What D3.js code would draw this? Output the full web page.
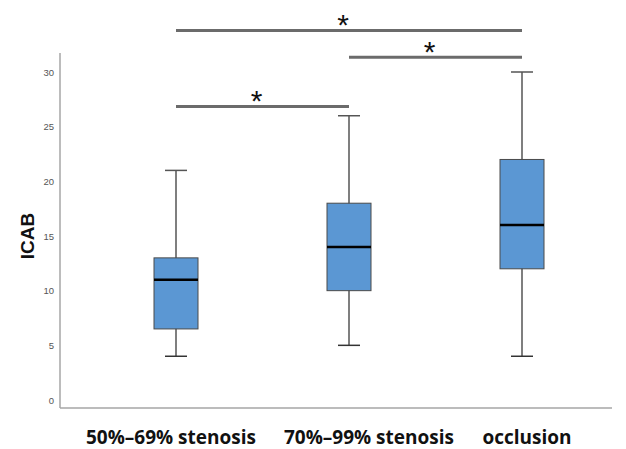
<!DOCTYPE html>
<html>
<head>
<meta charset="utf-8">
<script src="https://cdn.jsdelivr.net/npm/d3@7"></script>
<style>
  body { margin: 0; background: #fff; }
  svg { display: block; }
</style>
</head>
<body>
<div id="chart"></div>
<script>
const width = 626;
const height = 449;

// data
const groups = ["50%\u201369% stenosis", "70%\u201399% stenosis", "occlusion"];
const whiskerLow = [4, 5, 4];
const q1 = [6.5, 10, 12];
const medians = [11, 14, 16];
const q3 = [13, 18, 22];
const whiskerHigh = [21, 26, 30];
const yTicks = [0, 5, 10, 15, 20, 25, 30];

// significance brackets: [from group, to group]
const sigPairs = [[0, 2], [1, 2], [0, 1]];
const sigLevels = [33.8, 31.35, 26.85]; // bar heights in data units
const sigLabels = ["*", "*", "*"];

const svg = d3.select("#chart").append("svg")
    .attr("width", width)
    .attr("height", height);

const y = d3.scaleLinear().domain([0, 30]).range([400, 72]);
const x = d3.scalePoint().domain(groups).range([176, 522]);

const plotLeft = 60, plotRight = 612, plotTop = 53, plotBottom = 408;
const boxW = 44, capW = 22;

// axis frame
svg.append("line")
    .attr("x1", plotLeft).attr("x2", plotLeft)
    .attr("y1", plotTop).attr("y2", plotBottom)
    .style("stroke", "#a6a6a6").style("stroke-width", 1.5);
svg.append("line")
    .attr("x1", plotLeft).attr("x2", plotRight)
    .attr("y1", plotBottom).attr("y2", plotBottom)
    .style("stroke", "#a6a6a6").style("stroke-width", 1.5);

// y ticks labels
const yAxis = d3.axisLeft(y).tickValues(yTicks).tickSize(0).tickPadding(6);
const gy = svg.append("g")
    .attr("transform", `translate(${plotLeft},0)`)
    .call(yAxis);
gy.select(".domain").remove();
gy.selectAll("text")
    .style("font-family", "Arial, 'Liberation Sans', sans-serif")
    .style("font-size", "9.5px")
    .style("fill", "#555");

// y title
svg.append("text")
    .attr("transform", "translate(34,236) rotate(-90)")
    .attr("text-anchor", "middle")
    .style("font-family", "Arial, 'Liberation Sans', sans-serif")
    .style("font-weight", "bold")
    .style("font-size", "19px")
    .style("fill", "#111")
    .text("ICAB");

// boxes
const boxes = svg.append("g")
  .selectAll("g")
  .data(groups)
  .join("g");

boxes.append("line")
    .attr("x1", d => x(d)).attr("x2", d => x(d))
    .attr("y1", (d, i) => y(whiskerHigh[i]))
    .attr("y2", (d, i) => y(whiskerLow[i]))
    .style("stroke", "#555").style("stroke-width", 1.5);

boxes.append("line")
    .attr("x1", d => x(d) - capW / 2).attr("x2", d => x(d) + capW / 2)
    .attr("y1", (d, i) => y(whiskerHigh[i]))
    .attr("y2", (d, i) => y(whiskerHigh[i]))
    .style("stroke", "#555").style("stroke-width", 1.5);

boxes.append("line")
    .attr("x1", d => x(d) - capW / 2).attr("x2", d => x(d) + capW / 2)
    .attr("y1", (d, i) => y(whiskerLow[i]))
    .attr("y2", (d, i) => y(whiskerLow[i]))
    .style("stroke", "#333").style("stroke-width", 1.5);

boxes.append("rect")
    .attr("x", d => x(d) - boxW / 2)
    .attr("width", boxW)
    .attr("y", (d, i) => y(q3[i]))
    .attr("height", (d, i) => y(q1[i]) - y(q3[i]))
    .style("fill", "#5b97d3")
    .style("stroke", "#4a4a4a")
    .style("stroke-width", 1);

boxes.append("line")
    .attr("x1", d => x(d) - boxW / 2).attr("x2", d => x(d) + boxW / 2)
    .attr("y1", (d, i) => y(medians[i]))
    .attr("y2", (d, i) => y(medians[i]))
    .style("stroke", "#000").style("stroke-width", 2.5);

// significance bars
const sig = svg.append("g")
  .selectAll("g")
  .data(sigPairs)
  .join("g");

sig.append("line")
    .attr("x1", d => x(groups[d[0]]))
    .attr("x2", d => x(groups[d[1]]))
    .attr("y1", (d, i) => y(sigLevels[i]))
    .attr("y2", (d, i) => y(sigLevels[i]))
    .style("stroke", "#6b6b6b").style("stroke-width", 3);

sig.append("text")
    .attr("x", d => (x(groups[d[0]]) + x(groups[d[1]])) / 2 - 6)
    .attr("y", (d, i) => y(sigLevels[i]) + 5)
    .attr("text-anchor", "middle")
    .style("font-family", "Arial, 'Liberation Sans', sans-serif")
    .style("font-size", "30px")
    .style("fill", "#111")
    .text((d, i) => sigLabels[i]);

// x labels
const labelShift = [-5, 20, 5];
svg.append("g")
  .selectAll("text")
  .data(groups)
  .join("text")
    .attr("x", (d, i) => x(d) + labelShift[i])
    .attr("y", 444)
    .attr("text-anchor", "middle")
    .style("font-family", "'Open Sans', 'Noto Sans', sans-serif")
    .style("font-weight", "bold")
    .style("font-size", "19px")
    .style("fill", "#111")
    .text(d => d);
</script>
</body>
</html>
